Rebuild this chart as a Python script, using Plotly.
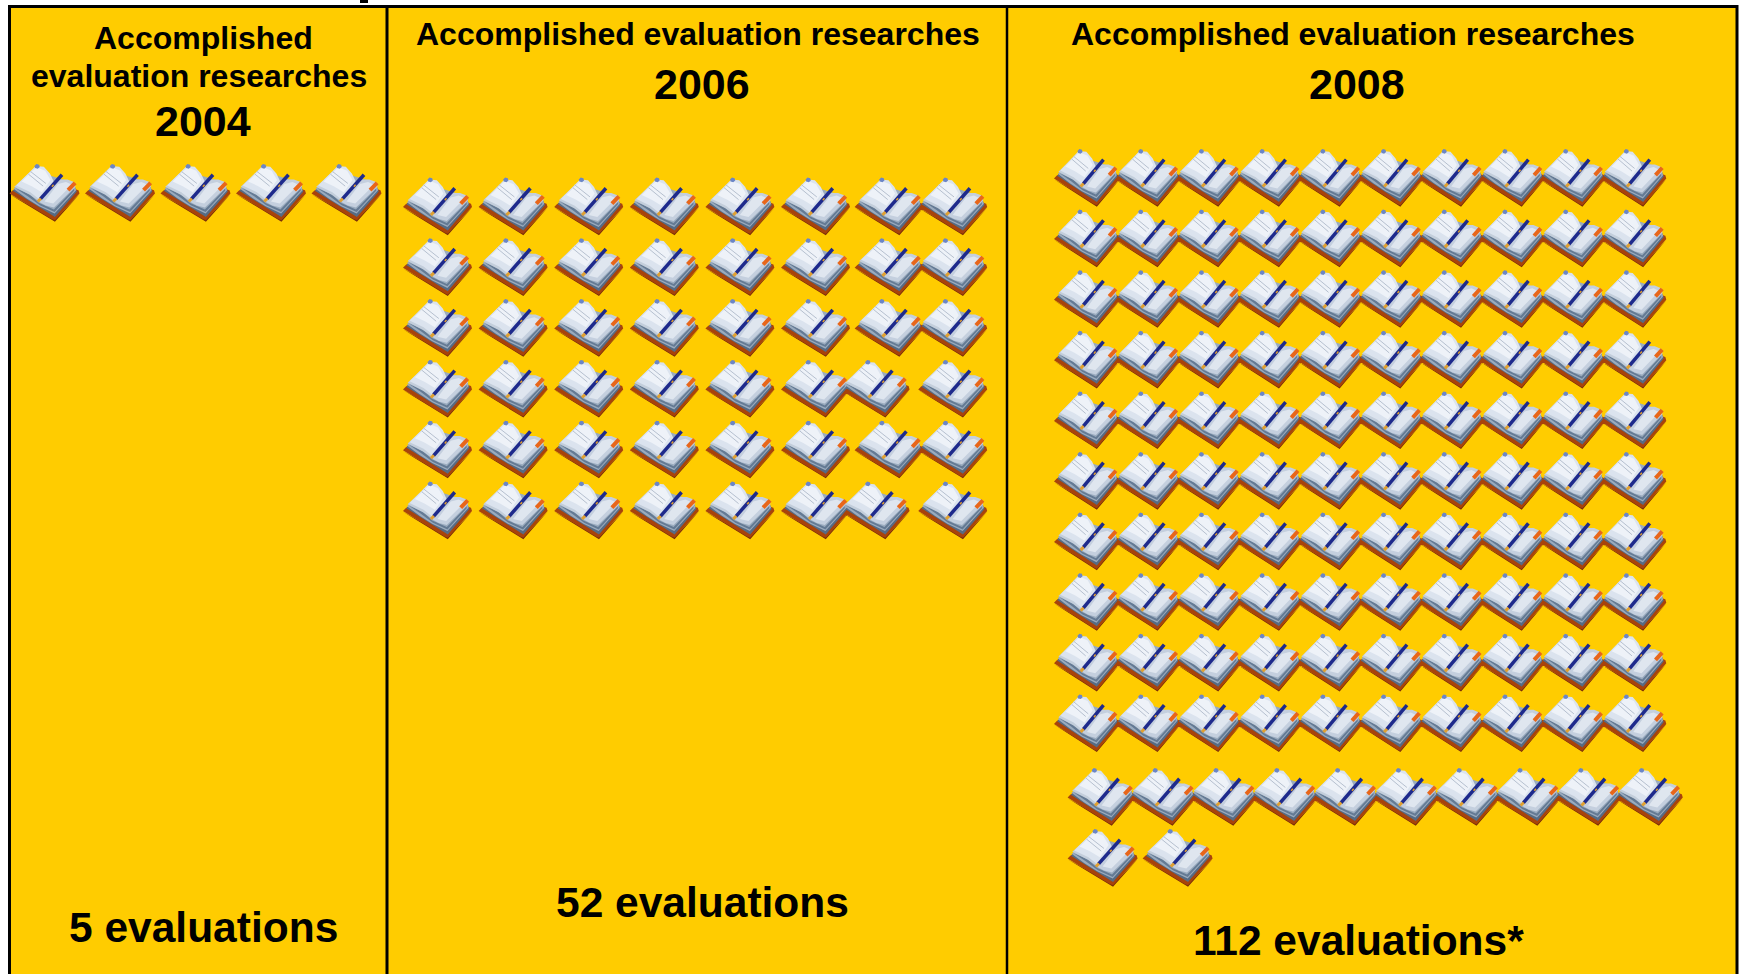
import plotly.graph_objects as go

# ---- data -------------------------------------------------------------
years = ["2004", "2006", "2008"]
evaluation_labels = ["5 evaluations", "52 evaluations", "112 evaluations*"]
books_per_row_2004 = [5]
books_per_row_2006 = [8, 8, 8, 8, 8, 8]
books_per_row_2008 = [10, 10, 10, 10, 10, 10, 10, 10, 10, 10, 10, 2]
header_single = "Accomplished evaluation researches"

# ---- layout constants (pixels of the 1739x974 canvas) -------------------
W, H = 1739, 974
GOLD = "#FFCC00"
GRID = {
    "2004": dict(left=9.5, top=164, dx=75.5, dy=60.7, w=70, h=57),
    "2006": dict(left=403, top=177.5, dx=75.6, dy=60.8, w=69, h=57),
    "2008": dict(left=1054, top=149, dx=60.7, dy=60.6, w=66, h=57),
}
NUDGE = {("2006", r, 6): -2 for r in (0, 1, 2, 4)}
NUDGE.update({("2006", 3, 6): -16, ("2006", 5, 6): -16})
NUDGE.update({("2006", r, 7): -14 for r in range(6)})
ROW_OVERRIDE = {("2008", 10): dict(left=1067.6, top=768, dx=60.8, w=68),
                ("2008", 11): dict(left=1067.6, top=829, dx=75, w=70)}

# book drawing in a 208 x 170 local box
FILLS = [
    ("#7a2e06", [(0, 90), (135, 172), (208, 90), (136, 164)]),
    ("#a8430b", [(0, 88), (8, 80), (70, 40), (150, 60), (205, 78), (208, 88), (135, 168), (125, 164)]),
    ("#566b84", [(10, 80), (75, 22), (190, 58), (200, 82), (135, 158), (122, 150)]),
    ("#9aabbe", [(12, 74), (75, 20), (190, 56), (198, 78), (134, 148), (88, 126), (50, 102)]),
    ("#647a94", [(18, 72), (60, 90), (88, 116), (132, 136), (192, 74), (192, 80), (134, 143), (90, 123), (54, 96)]),
    ("#c3cedb", [(14, 68), (78, 8), (100, 30), (124, 60), (92, 114), (60, 92)]),
    ("#dbe3ee", [(20, 64), (78, 6), (102, 8), (120, 28), (136, 62), (92, 108), (62, 84)]),
    ("#eef2f8", [(36, 52), (80, 10), (106, 20), (122, 48), (96, 84), (66, 66)]),
    ("#c4cfde", [(90, 114), (138, 56), (150, 46), (172, 46), (192, 54), (196, 68), (132, 130), (108, 124)]),
    ("#dfe6ef", [(104, 112), (144, 60), (168, 54), (186, 62), (130, 118)]),
    ("#6c86c6", [(74, 6), (80, 0), (88, 2), (90, 9), (84, 14), (76, 12)]),
]
STROKES = [
    ("#b6c0cf", 1, [(62, 22), (108, 58)]),
    ("#b6c0cf", 1, [(56, 30), (100, 66)]),
    ("#1e2a8c", 3.5, [(92, 104), (156, 32)]),
    ("#e0a030", 1.5, [(126, 68), (131, 62)]),
    ("#e0a030", 3, [(84, 112), (93, 103)]),
    ("#e8661a", 4, [(174, 78), (195, 56)]),
]


def book_positions(year, rows):
    g = GRID[year]
    out = []
    for r, count in enumerate(rows):
        ov = ROW_OVERRIDE.get((year, r), {})
        left = ov.get("left", g["left"])
        top = ov.get("top", g["top"] + r * g["dy"])
        dx = ov.get("dx", g["dx"])
        w = ov.get("w", g["w"])
        for c in range(count):
            out.append((left + c * dx + NUDGE.get((year, r, c), 0), top, w, g["h"]))
    return out


placed = (book_positions("2004", books_per_row_2004)
          + book_positions("2006", books_per_row_2006)
          + book_positions("2008", books_per_row_2008))


def poly_trace(color, pts):
    xs, ys = [], []
    for x0, y0, w, h in placed:
        for px, py in pts + pts[:1]:
            xs.append(x0 + px / 208 * w)
            ys.append(y0 + py / 170 * h)
        xs.append(None)
        ys.append(None)
    return go.Scatter(x=xs, y=ys, mode="lines", fill="toself", fillcolor=color,
                      line=dict(width=0, color=color), hoverinfo="skip", showlegend=False)


def line_trace(color, width, pts):
    xs, ys = [], []
    for x0, y0, w, h in placed:
        for px, py in pts:
            xs.append(x0 + px / 208 * w)
            ys.append(y0 + py / 170 * h)
        xs.append(None)
        ys.append(None)
    return go.Scatter(x=xs, y=ys, mode="lines", line=dict(width=width, color=color),
                      hoverinfo="skip", showlegend=False)


fig = go.Figure()
for col, pts in FILLS:
    fig.add_trace(poly_trace(col, pts))
for col, wd, pts in STROKES:
    fig.add_trace(line_trace(col, wd, pts))

BLACK = "#000000"
shapes = [
    dict(type="rect", x0=9.5, x1=1737, y0=6.5, y1=H + 10, fillcolor=GOLD,
         line=dict(color=BLACK, width=3), layer="below"),
    dict(type="line", x0=387, x1=387, y0=6.5, y1=H + 10, line=dict(color=BLACK, width=3), layer="below"),
    dict(type="line", x0=1007, x1=1007, y0=6.5, y1=H + 10, line=dict(color=BLACK, width=2.5), layer="below"),
    dict(type="rect", x0=360, x1=368, y0=-2, y1=3, fillcolor=BLACK, line=dict(width=0), layer="below"),
]


def label(text, cx, baseline, size):
    return dict(x=cx, y=baseline - 0.35 * size, text="<b>%s</b>" % text, showarrow=False,
                xanchor="center", yanchor="middle",
                font=dict(family="Liberation Sans", size=size, color=BLACK), align="center")


annotations = [
    label("Accomplished", 203, 49, 32),
    label("evaluation researches", 199, 87, 32),
    label(years[0], 203, 136, 43),
    label(evaluation_labels[0], 203, 942, 42.5),
    label(header_single, 698, 45, 32),
    label(years[1], 702, 99, 43),
    label(evaluation_labels[1], 702, 917, 42.5),
    label(header_single, 1353, 45, 32),
    label(years[2], 1357, 99, 43),
    label(evaluation_labels[2], 1358, 955, 42.5),
]

fig.update_layout(
    width=W, height=H, margin=dict(l=0, r=0, t=0, b=0),
    paper_bgcolor="white", plot_bgcolor="white", showlegend=False,
    xaxis=dict(range=[0, W], visible=False, fixedrange=True),
    yaxis=dict(range=[H, 0], visible=False, fixedrange=True),
    shapes=shapes, annotations=annotations,
)
fig.write_html("out.html", config=dict(displayModeBar=False),
               post_script="document.body.style.margin='0';document.documentElement.style.overflow='hidden';")
